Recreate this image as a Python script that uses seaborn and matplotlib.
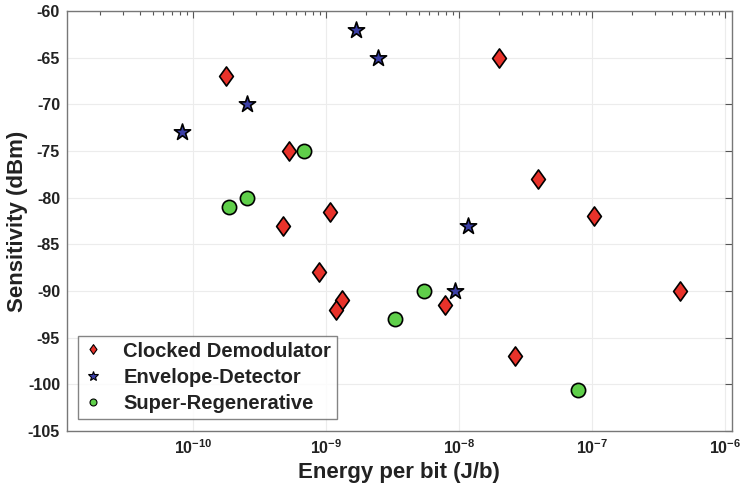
import numpy as np
import pandas as pd
import seaborn as sns
import matplotlib
matplotlib.use("Agg")
import matplotlib.pyplot as plt
from matplotlib.lines import Line2D
from matplotlib.path import Path
from matplotlib.ticker import FixedLocator, FuncFormatter, NullFormatter

# ---- data ----
cd_x = [1.78e-10, 2.02e-8, 5.27e-10, 3.96e-8, 1.08e-9, 1.04e-7, 4.8e-10,
        8.9e-10, 4.62e-7, 1.32e-9, 1.19e-9, 7.83e-9, 2.65e-8]
cd_y = [-67, -65, -75, -78, -81.5, -82, -83, -88, -90, -91, -92, -91.5, -97]
ed_x = [1.69e-9, 2.46e-9, 2.55e-10, 8.35e-11, 1.18e-8, 9.3e-9]
ed_y = [-62, -65, -70, -73, -83, -90]
sr_x = [6.88e-10, 2.54e-10, 1.88e-10, 5.5e-9, 3.3e-9, 7.92e-8]
sr_y = [-75, -80, -81, -90, -93, -100.6]
series_names = ["Clocked Demodulator", "Envelope-Detector", "Super-Regenerative"]
y_ticks = [-105, -100, -95, -90, -85, -80, -75, -70, -65, -60]
x_decades = [-10, -9, -8, -7, -6]

sns.set_theme(style="white")
plt.rcParams['font.family'] = ['Liberation Sans', 'DejaVu Sans']
plt.rcParams['font.weight'] = 'bold'
plt.rcParams['mathtext.fontset'] = 'custom'
plt.rcParams['mathtext.rm'] = 'Liberation Sans:bold'
plt.rcParams['mathtext.bf'] = 'Liberation Sans:bold'
plt.rcParams['mathtext.it'] = 'Liberation Sans:bold'

fig = plt.figure(figsize=(7.4, 4.91), dpi=100)
ax = fig.add_axes([0.0905, 0.122, 0.8985, 0.8555])

df_cd = pd.DataFrame({"x": cd_x, "y": cd_y})
df_ed = pd.DataFrame({"x": ed_x, "y": ed_y})
df_sr = pd.DataFrame({"x": sr_x, "y": sr_y})

red = "#e8322a"
blue = "#3b3fa6"
green = "#5fcf4a"

diamond = Path([(0, -1), (0.72, 0), (0, 1), (-0.72, 0), (0, -1)],
               [Path.MOVETO, Path.LINETO, Path.LINETO, Path.LINETO, Path.CLOSEPOLY])

sns.scatterplot(data=df_cd, x="x", y="y", ax=ax, marker=diamond, s=190,
                color=red, edgecolor="black", linewidth=1.2, zorder=3)
sns.scatterplot(data=df_ed, x="x", y="y", ax=ax, marker="*", s=150,
                color=blue, edgecolor="black", linewidth=1.2, zorder=3)
sns.scatterplot(data=df_sr, x="x", y="y", ax=ax, marker="o", s=105,
                color=green, edgecolor="black", linewidth=1.2, zorder=3)

ax.set_xscale("log")
ax.set_xlim(1.13e-11, 1.13e-6)
ax.set_ylim(-105, -60)
ax.set_yticks(y_ticks)
ax.set_yticklabels([str(v) for v in y_ticks])

major = [10.0 ** d for d in x_decades]
minor = [m * 10.0 ** d for d in range(-11, -6) for m in range(2, 10)]
minor = [v for v in minor if 1.13e-11 < v < 1.13e-6]
ax.xaxis.set_major_locator(FixedLocator(major))
ax.xaxis.set_minor_locator(FixedLocator(minor))
ax.xaxis.set_minor_formatter(NullFormatter())
ax.xaxis.set_major_formatter(FuncFormatter(lambda v, p: r"$10^{%d}$" % int(round(np.log10(v)))))

ax.grid(True, which="major", color="#ececec", linewidth=0.8)
ax.set_axisbelow(True)
ax.tick_params(axis="both", which="both", direction="in", top=True, right=True,
               colors="#555555", labelcolor="#222222", labelsize=11.5)
ax.tick_params(axis="both", which="major", length=5, width=0.8, pad=5)
ax.tick_params(axis="x", which="minor", length=3, width=0.8)
for sp in ax.spines.values():
    sp.set_color("#777777")
    sp.set_linewidth(1.0)

ax.set_xlabel("Energy per bit (J/b)", fontsize=16, fontweight="bold", color="#222222",
              labelpad=4)
ax.set_ylabel("Sensitivity (dBm)", fontsize=16, fontweight="bold", color="#222222",
              labelpad=0)

handles = [
    Line2D([], [], linestyle="none", marker=diamond, markersize=7, markerfacecolor=red,
           markeredgecolor="black", markeredgewidth=0.8),
    Line2D([], [], linestyle="none", marker="*", markersize=7, markerfacecolor=blue,
           markeredgecolor="black", markeredgewidth=0.8),
    Line2D([], [], linestyle="none", marker="o", markersize=5, markerfacecolor=green,
           markeredgecolor="black", markeredgewidth=0.8),
]
leg = ax.legend(handles, series_names, loc="lower left", bbox_to_anchor=(0.0165, 0.0286),
                fontsize=14.5, frameon=True, fancybox=False, edgecolor="#666666",
                borderpad=0.3, labelspacing=0.36, handletextpad=1.05, handlelength=0.9,
                borderaxespad=0.0)
leg.get_frame().set_linewidth(1.0)
for t in leg.get_texts():
    t.set_fontweight("bold")
    t.set_color("#222222")

fig.savefig("out.png", dpi=100)
